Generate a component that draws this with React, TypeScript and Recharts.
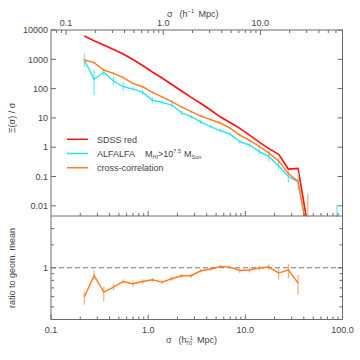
import React from 'react';
import { LineChart, Line, XAxis, YAxis, ErrorBar, ReferenceLine } from 'recharts';

const FONT = '"Liberation Sans", Arial, Helvetica, sans-serif';
const AX = '#6a6a6a';
const TXT = '#444444';
const RED = '#ff1010';
const CYAN = '#22e0f5';
const CYAN_ERR = '#66ecfa';
const ORANGE = '#ff7b22';
const ORANGE_ERR = '#ffab70';

// projected separation bins, h70^-1 Mpc
const sigma = [0.2203, 0.2773, 0.3491, 0.4395, 0.5533, 0.6966, 0.877, 1.104, 1.39, 1.75, 2.203, 2.773, 3.491, 4.395, 5.533, 6.966, 8.77, 11.04, 13.9, 17.5, 22.03, 27.73, 34.91, 43.95, 55.33, 69.66, 87.7];
const h70ToH = 0.7; // h^-1 Mpc = 0.7 h70^-1 Mpc

// Xi(sigma)/sigma
const sdssRed = [6240, 4310, 3080, 2160, 1520, 985, 614, 369, 230, 138, 83, 50, 31, 18.6, 10.7, 7.0, 4.4, 2.6, 1.5, 0.9, 0.57, 0.18, 0.19, 0.002];
const alfalfa = [946, 208, 360, 182, 116, 97, 74, 40, 34, 27.5, 15, 11, 7.2, 5, 3.7, 2.8, 1.54, 1.19, 0.71, 0.48, 0.23, 0.1, 0.067, 0.001, null, null, 0.001];
const alfalfaErrDex: [number, number][] = [[0.23, 0.22], [0.54, 0.32], [0.12, 0.12], [0.14, 0.15], [0.15, 0.15], [0.08, 0.08], [0.08, 0.08], [0.1, 0.1], [0.07, 0.07], [0.07, 0.07], [0.08, 0.08], [0.07, 0.07], [0.06, 0.06], [0.06, 0.06], [0.06, 0.06], [0.06, 0.06], [0.06, 0.06], [0.08, 0.08], [0.1, 0.1], [0.15, 0.15], [0.15, 0.15], [0.2, 0.2], [0.3, 0.3], [0, 0], [0, 0], [0, 0], [0.5, 1.02]];
const crossCorr = [946, 766, 431, 333, 236, 151, 116, 74, 52, 36, 23.6, 16.5, 11.6, 8.8, 6.7, 4.5, 2.6, 1.7, 1.06, 0.63, 0.34, 0.126, 0.068, 0.001];
const crossErrDex: [number, number][] = [[0.1, 0.05], [0.04, 0.04], [0.04, 0.04], [0.04, 0.04], [0.04, 0.04], [0.04, 0.04], [0.04, 0.04], [0.04, 0.04], [0.04, 0.04], [0.04, 0.04], [0.04, 0.04], [0.04, 0.04], [0.04, 0.04], [0.04, 0.04], [0.04, 0.04], [0.04, 0.04], [0.05, 0.05], [0.05, 0.05], [0.06, 0.06], [0.08, 0.08], [0.08, 0.08], [0.1, 0.1], [0.12, 0.12], [0.3, 1.4]];

// ratio of cross-correlation to geometric mean
const ratio = [0.595, 0.872, 0.65, 0.71, 0.784, 0.753, 0.784, 0.808, 0.776, 0.823, 0.868, 0.868, 0.948, 0.977, 1.023, 1.012, 0.953, 0.96, 0.995, 1.012, 0.91, 0.965, 0.762];
const ratioErr: [number, number][] = [[0.076, 0.061], [0.064, 0.076], [0.1, 0.068], [0.04, 0.04], [0.03, 0.03], [0.04, 0.04], [0.03, 0.03], [0.03, 0.03], [0.03, 0.03], [0.03, 0.03], [0.03, 0.03], [0.03, 0.03], [0.03, 0.03], [0.03, 0.03], [0.03, 0.03], [0.03, 0.03], [0.04, 0.04], [0.04, 0.04], [0.04, 0.04], [0.05, 0.05], [0.1, 0.085], [0.13, 0.11], [0.14, 0.12]];

// axis ticks
const xTicksH70 = [0.2, 0.3, 0.4, 0.5, 0.6, 0.7, 0.8, 0.9, 1, 2, 3, 4, 5, 6, 7, 8, 9, 10, 20, 30, 40, 50, 60, 70, 80, 90];
const xTicksH = [0.08, 0.09, 0.1, 0.2, 0.3, 0.4, 0.5, 0.6, 0.7, 0.8, 0.9, 1, 2, 3, 4, 5, 6, 7, 8, 9, 10, 20, 30, 40, 50, 60];
const yTicksMain = [0.01, 0.1, 1, 10, 100, 1000, 10000];
const yTicksRatio = [0.5, 0.6, 0.7, 0.8, 0.9, 1, 1.5, 2];

const isDecade = (v: number) => {
  const l = Math.log10(v);
  return Math.abs(l - Math.round(l)) < 1e-6;
};

const withDex = (vals: (number | null)[], dex: [number, number][]) =>
  vals.map((v, i) => ({
    x: sigma[i],
    y: v,
    e: v == null ? [0, 0] : [v - v / Math.pow(10, dex[i][0]), v * Math.pow(10, dex[i][1]) - v],
  }));

const redData = sdssRed.map((v, i) => ({ x: sigma[i], y: v }));
// same red curve in h^-1 Mpc units, drawn invisibly so the top/right axes are bound to data
const redDataH = sdssRed.map((v, i) => ({ x: sigma[i] * h70ToH, y: v }));
const cyanData = withDex(alfalfa, alfalfaErrDex);
const orangeData = withDex(crossCorr, crossErrDex);
const ratioData = ratio.map((v, i) => ({ x: sigma[i], y: v, e: ratioErr[i] }));

const txt = { fontFamily: FONT, fontSize: 9, fill: TXT } as const;

const xTick = (side: 'top' | 'bottom', labelled: boolean) => (p: any) => {
  const v = p.payload.value;
  const major = isDecade(v);
  const L = major ? 5 : 3;
  const dir = side === 'top' ? 1 : -1;
  return (
    <g>
      <line x1={p.x} x2={p.x} y1={p.y} y2={p.y + dir * L} stroke={AX} strokeWidth={1} />
      {labelled && major ? (
        <text x={p.x} y={side === 'top' ? p.y - 4.5 : p.y + 13.5} textAnchor="middle" {...txt}>
          {v.toFixed(1)}
        </text>
      ) : null}
    </g>
  );
};

const yTick = (side: 'left' | 'right', labelled: boolean, majorOnly: number[] | null) => (p: any) => {
  const v = p.payload.value;
  const major = majorOnly ? majorOnly.indexOf(v) >= 0 : true;
  const L = major ? 5 : 3;
  const dir = side === 'left' ? 1 : -1;
  return (
    <g>
      <line x1={p.x} x2={p.x + dir * L} y1={p.y} y2={p.y} stroke={AX} strokeWidth={1} />
      {labelled && major ? (
        <text x={p.x - 3} y={p.y + 3.2} textAnchor="end" {...txt}>
          {String(v)}
        </text>
      ) : null}
    </g>
  );
};

const common = {
  type: 'number' as const,
  scale: 'log' as const,
  allowDataOverflow: true,
  interval: 0 as const,
  tickSize: 0,
  tickMargin: 0,
  tickLine: false,
  axisLine: { stroke: AX },
};

const Overlay = () => (
  <svg width={360} height={360} style={{ position: 'absolute', left: 0, top: 0, pointerEvents: 'none' }}>
    <text x={167} y={16.5} {...txt}>
      σ<tspan dx={7}>(h</tspan>
      <tspan dy={-3.5} fontSize={6}>−1</tspan>
      <tspan dy={3.5} dx={4}>Mpc)</tspan>
    </text>
    <text x={166} y={343} {...txt}>
      σ<tspan dx={7}>(h</tspan>
      <tspan dy={-3.5} fontSize={5.5}>−1</tspan>
      <tspan dx={-7} dy={5.5} fontSize={5.5}>70</tspan>
      <tspan dy={-2} dx={5}>Mpc)</tspan>
    </text>
    <text x={0} y={0} transform="translate(15,118) rotate(-90)" textAnchor="middle" {...txt}>
      Ξ(σ) / σ
    </text>
    <text x={0} y={0} transform="translate(15,268) rotate(-90)" textAnchor="middle" {...txt}>
      ratio to geom. mean
    </text>
    <line x1={67} x2={88} y1={139.3} y2={139.3} stroke={RED} strokeWidth={1.5} />
    <text x={97} y={142.6} {...txt}>SDSS red</text>
    <line x1={67} x2={88} y1={153.5} y2={153.5} stroke={CYAN} strokeWidth={1.5} />
    <text x={97} y={156.8} {...txt}>
      ALFALFA
      <tspan dx={10}>M</tspan>
      <tspan dy={2.5} fontSize={5.5}>HI</tspan>
      <tspan dy={-2.5}>&gt;10</tspan>
      <tspan dy={-3.5} fontSize={5.5}>7.5</tspan>
      <tspan dy={3.5} dx={3}>M</tspan>
      <tspan dy={2.5} fontSize={5.5}>Sun</tspan>
    </text>
    <line x1={67} x2={88} y1={167.7} y2={167.7} stroke={ORANGE} strokeWidth={1.5} />
    <text x={97} y={171} {...txt}>cross-correlation</text>
  </svg>
);

export default function App() {
  return (
    <div style={{ position: 'absolute', left: 0, top: 0, width: 360, height: 360, background: '#fff' }}>
      <div style={{ position: 'absolute', left: 0, top: 0 }}>
        <LineChart width={360} height={360} margin={{ top: 216, right: 16.5, bottom: 39.5, left: 50 }}>
          <XAxis {...common} xAxisId="b" dataKey="x" domain={[0.1, 100]} ticks={[0.1, ...xTicksH70, 100]} height={1} tick={xTick('bottom', true)} />
          <YAxis {...common} yAxisId="l" domain={[0.4, 2.5]} ticks={yTicksRatio} width={1} tick={yTick('left', true, [1])} />
          <YAxis {...common} yAxisId="r" orientation="right" domain={[0.4, 2.5]} ticks={yTicksRatio} width={1} tick={yTick('right', false, [1])} />
          <ReferenceLine xAxisId="b" yAxisId="l" y={1} stroke="#777" strokeDasharray="5 3" strokeWidth={1} />
          <Line xAxisId="b" yAxisId="r" data={ratioData} dataKey="y" type="linear" stroke="none" dot={false} legendType="none" isAnimationActive={false} />
          <Line xAxisId="b" yAxisId="l" data={ratioData} dataKey="y" type="linear" stroke={ORANGE} strokeWidth={1.4} dot={false} isAnimationActive={false}>
            <ErrorBar dataKey="e" direction="y" width={0} stroke={ORANGE_ERR} strokeWidth={1.2} isAnimationActive={false} />
          </Line>
        </LineChart>
      </div>
      <div style={{ position: 'absolute', left: 0, top: 0 }}>
        <LineChart width={360} height={217} margin={{ top: 29, right: 16.5, bottom: 0, left: 50 }}>
          <XAxis {...common} xAxisId="b" dataKey="x" domain={[0.1, 100]} ticks={xTicksH70} height={1} tick={xTick('bottom', false)} />
          <XAxis {...common} xAxisId="top" orientation="top" dataKey="x" domain={[0.07, 70]} ticks={xTicksH} height={1} tick={xTick('top', true)} />
          <YAxis {...common} yAxisId="l" domain={[0.0045, 10000]} ticks={yTicksMain} width={1} tick={yTick('left', true, null)} />
          <YAxis {...common} yAxisId="r" orientation="right" domain={[0.0045, 10000]} ticks={yTicksMain} width={1} tick={yTick('right', false, null)} />
          <Line xAxisId="top" yAxisId="r" data={redDataH} dataKey="y" type="linear" stroke="none" dot={false} legendType="none" isAnimationActive={false} />
          <Line xAxisId="b" yAxisId="l" data={redData} dataKey="y" type="linear" stroke={RED} strokeWidth={1.6} dot={false} isAnimationActive={false} />
          <Line xAxisId="b" yAxisId="l" data={cyanData} dataKey="y" type="linear" stroke={CYAN} strokeWidth={1.3} dot={false} isAnimationActive={false}>
            <ErrorBar dataKey="e" direction="y" width={0} stroke={CYAN_ERR} strokeWidth={1.2} isAnimationActive={false} />
          </Line>
          <Line xAxisId="b" yAxisId="l" data={orangeData} dataKey="y" type="linear" stroke={ORANGE} strokeWidth={1.4} dot={false} isAnimationActive={false}>
            <ErrorBar dataKey="e" direction="y" width={0} stroke={ORANGE_ERR} strokeWidth={1.2} isAnimationActive={false} />
          </Line>
        </LineChart>
      </div>
      <Overlay />
    </div>
  );
}
